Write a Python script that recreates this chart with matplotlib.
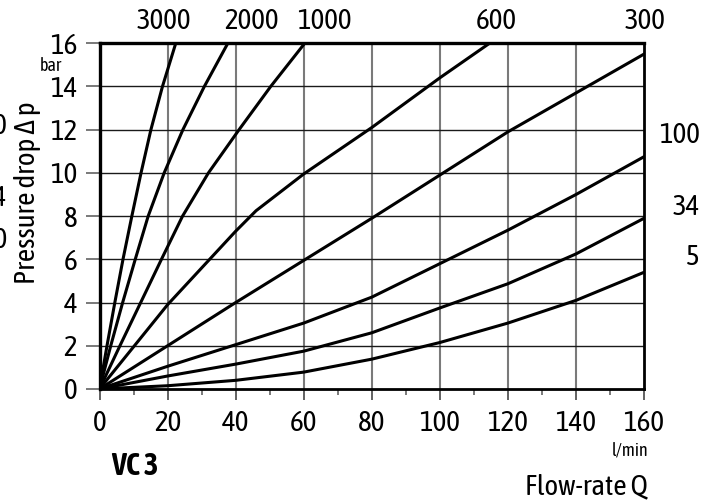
import matplotlib
matplotlib.use('Agg')
import matplotlib.pyplot as plt
from matplotlib import font_manager
from matplotlib.ticker import MultipleLocator
from matplotlib.transforms import blended_transform_factory


def weight_of(f):
    w = f.weight
    if isinstance(w, str):
        w = font_manager.weight_dict.get(w, 400)
    return w


# the original uses a condensed grotesque; take a narrow face if one is installed
installed = font_manager.fontManager.ttflist
narrow = [f for f in installed if 'Narrow' in f.name or 'Condensed' in f.name]
narrow_names = sorted({f.name for f in narrow})
bold_names = sorted({f.name for f in narrow if weight_of(f) >= 600})
if narrow_names:
    both = [n for n in narrow_names if n in bold_names]
    family = both[0] if both else narrow_names[0]
    bold_family = family if both else (bold_names[0] if bold_names else family)
    fs = 21
else:
    family = bold_family = 'Liberation Sans'
    fs = 17
plt.rcParams['font.family'] = [family, 'DejaVu Sans']

# curves, Q in l/min, dp in bar
p_steep = [0, 2, 4, 6, 8, 10, 12, 14, 16]
q_3000 = [0, 2.2, 4.5, 6.9, 9.5, 12.2, 15.1, 18.5, 22.4]
q_2000 = [0, 3.3, 6.8, 10.5, 14.3, 19.0, 24.5, 30.8, 37.7]
q_1000 = [0, 6.0, 12.1, 18.2, 24.4, 32.0, 41.0, 50.3, 60.3]
q_600 = [0, 20, 40, 46, 60, 80, 100, 114.6]
p_600 = [0, 3.9, 7.3, 8.25, 9.95, 12.1, 14.4, 16]
q_low = [0, 20, 40, 60, 80, 100, 120, 140, 160]
p_300 = [0, 2.0, 4.0, 5.95, 7.9, 9.9, 11.9, 13.7, 15.5]
p_100 = [0, 1.05, 2.05, 3.05, 4.25, 5.8, 7.35, 9.0, 10.75]
p_34 = [0, 0.6, 1.15, 1.75, 2.6, 3.75, 4.87, 6.25, 7.9]
p_5 = [0, 0.15, 0.4, 0.78, 1.38, 2.15, 3.05, 4.1, 5.4]

top_labels = ['3000', '2000', '1000', '600', '300']
top_label_q = [18.9, 44.7, 66.1, 116.7, 160.4]
right_labels = ['100', '34', '5']
right_label_p = [11.75, 8.4, 6.1]

fig = plt.figure(figsize=(7.19, 5.01), dpi=100)
ax = fig.add_axes([0.1384, 0.2236, 0.7573, 0.69])

curves = [(q_3000, p_steep), (q_2000, p_steep), (q_1000, p_steep), (q_600, p_600),
          (q_low, p_300), (q_low, p_100), (q_low, p_34), (q_low, p_5)]
for q, p in curves:
    ax.plot(q, p, color='black', lw=2.2, solid_joinstyle='round', zorder=3)

ax.set_xlim(0, 160)
ax.set_ylim(0, 16)
ax.xaxis.set_major_locator(MultipleLocator(20))
ax.xaxis.set_minor_locator(MultipleLocator(10))
ax.yaxis.set_major_locator(MultipleLocator(2))

for x in range(20, 160, 20):
    ax.axvline(x, color='#7a7a7a', lw=1.5, zorder=1)
for y in range(2, 16, 2):
    ax.axhline(y, color='#1a1a1a', lw=1.0, zorder=1)

for s in ax.spines.values():
    s.set_linewidth(2.0)
    s.set_color('black')
ax.spines['left'].set_linewidth(2.4)
ax.spines['top'].set_linewidth(2.4)

ax.tick_params(axis='x', which='major', length=8, width=1.3, color='#555555',
               labelsize=fs, pad=7)
ax.tick_params(axis='x', which='minor', length=4, width=1.1, color='#555555')
ax.tick_params(axis='y', which='major', length=10, width=1.1, color='#555555',
               labelsize=fs, pad=6)

ax.set_ylabel('Pressure drop \u0394 p', fontsize=fs)
ax.yaxis.set_label_coords(-0.108, 0.567)

tr = blended_transform_factory(ax.transData, ax.transAxes)
for lab, q in zip(top_labels, top_label_q):
    ax.text(q, 1.062, lab, transform=tr, ha='center', va='center', fontsize=fs)
tr2 = blended_transform_factory(ax.transAxes, ax.transData)
for lab, p in zip(right_labels, right_label_p):
    ax.text(1.103, p, lab, transform=tr2, ha='right', va='center', fontsize=fs)

ax.text(-0.068, 0.935, 'bar', transform=ax.transAxes, ha='right', va='center', fontsize=13)
ax.text(1.009, -0.179, 'l/min', transform=ax.transAxes, ha='right', va='center', fontsize=13)

fig.text(0.155, 0.068, 'VC 3', ha='left', va='center', fontsize=fs + 1,
         fontweight='bold', family=[bold_family, 'DejaVu Sans'])
fig.text(0.901, 0.028, 'Flow-rate Q', ha='right', va='center', fontsize=fs)

# cut-off labels of the neighbouring chart
for lab, y in zip(['100', '34', '10'], [126, 198, 241]):
    fig.text(7 / 719, 1 - y / 501, lab, ha='right', va='center', fontsize=fs)

fig.savefig('out.png', dpi=100)
